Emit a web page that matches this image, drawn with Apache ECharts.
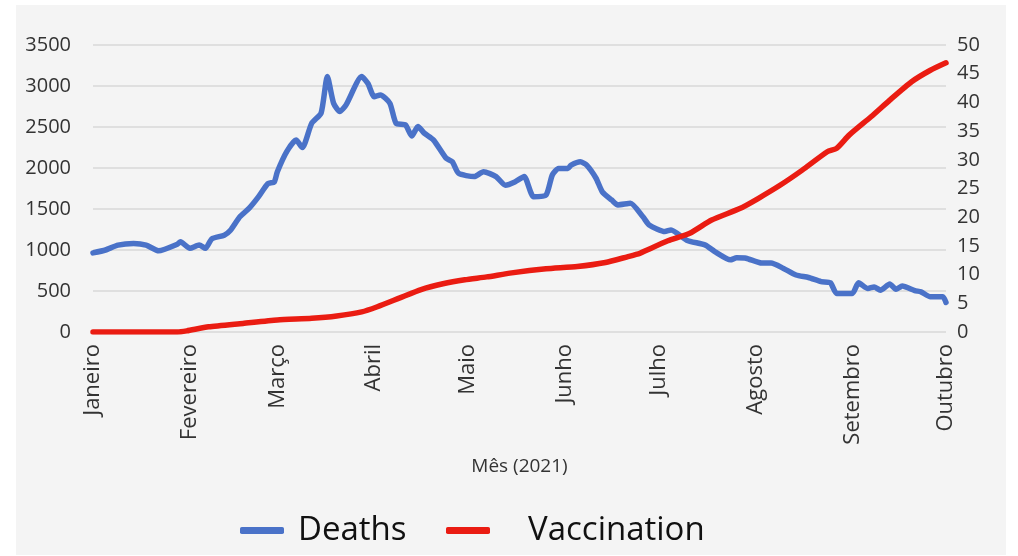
<!DOCTYPE html>
<html>
<head>
<meta charset="utf-8">
<script src="https://cdn.jsdelivr.net/npm/echarts@6/dist/echarts.min.js"></script>
<style>
  body { margin: 0; background: #fff; }
  #panel { position: absolute; left: 16px; top: 5px; width: 990px; height: 550px; background: #f4f4f4; }
  #chart { position: absolute; left: 0; top: 0; width: 1018px; height: 556px; }
</style>
</head>
<body>
<div id="panel"></div>
<div id="chart"></div>
<script>
// months of 2021 (Jan 1 .. Oct 1), one category per day
const monthNames = ['Janeiro', 'Fevereiro', 'Março', 'Abril', 'Maio', 'Junho', 'Julho', 'Agosto', 'Setembro', 'Outubro'];
const monthDays = [31, 28, 31, 30, 31, 30, 31, 31, 30, 1];

// daily deaths (7-day average) at day-of-year index
const deathDays = [0, 4, 8, 13, 17, 21, 27, 28, 31, 34, 36, 38, 42, 44, 47, 50, 53, 56, 58, 59,
  62, 65, 67, 70, 73, 75, 77, 79, 81, 86, 88, 90, 92, 95, 97, 100, 102, 104, 106, 109,
  113, 115, 117, 122, 125, 129, 132, 135, 138, 141, 145, 147, 149, 152, 153, 156, 158, 161, 163, 166,
  168, 172, 176, 178, 183, 185, 190, 196, 199, 204, 206, 209, 214, 217, 221, 225, 229, 233, 236, 238,
  243, 245, 248, 250, 252, 255, 257, 259, 263, 265, 268, 272, 273];
const deathValues = [965, 1000, 1060, 1080, 1060, 990, 1070, 1100, 1020, 1060, 1020, 1135, 1180, 1240, 1405, 1510, 1650, 1810, 1830, 1955,
  2200, 2340, 2250, 2545, 2670, 3115, 2790, 2690, 2770, 3115, 3030, 2870, 2890, 2790, 2545, 2525, 2390, 2505, 2425, 2340,
  2120, 2075, 1935, 1895, 1955, 1895, 1790, 1830, 1895, 1650, 1670, 1915, 1995, 1995, 2035, 2075, 2035, 1875, 1710, 1610,
  1550, 1570, 1405, 1305, 1225, 1245, 1120, 1060, 980, 880, 905, 900, 840, 840, 775, 695, 665, 615, 600, 470,
  470, 600, 530, 550, 510, 585, 520, 560, 505, 490, 430, 430, 360];

// vaccination (% of population), right axis
const vacDays = [0, 27, 30, 37, 48, 59, 70, 78, 86, 91, 98, 105, 112, 119, 126, 134, 145, 155, 164, 171,
  175, 177, 184, 191, 198, 207, 213, 220, 227, 235, 238, 242, 249, 255, 262, 268, 273];
const vacValues = [0, 0, 0.2, 0.9, 1.5, 2.1, 2.4, 2.8, 3.5, 4.4, 5.9, 7.4, 8.4, 9.1, 9.6, 10.3, 11, 11.4, 12.1, 13.1,
  13.7, 14.2, 15.9, 17.2, 19.5, 21.5, 23.3, 25.6, 28.2, 31.4, 32, 34.3, 37.5, 40.4, 43.6, 45.6, 46.9];

const days = [];
const monthOf = {};
monthDays.forEach((n, m) => {
  for (let d = 1; d <= n; d++) {
    const key = m + '-' + d;
    if (d === 1) monthOf[key] = monthNames[m];
    days.push(key);
  }
});

const deaths = deathDays.map((d, i) => [d, deathValues[i]]);
const vaccination = vacDays.map((d, i) => [d, vacValues[i]]);

const font = 'Open Sans';
const textColor = '#333';

const chart = echarts.init(document.getElementById('chart'));
chart.setOption({
  animation: false,
  backgroundColor: 'transparent',
  grid: { left: 93, right: 72, top: 45, bottom: 224, containLabel: false },
  xAxis: {
    type: 'category',
    data: days,
    boundaryGap: false,
    axisLine: { show: false },
    axisTick: { show: false },
    axisLabel: {
      interval: (idx, val) => monthOf[val] !== undefined,
      formatter: (val) => monthOf[val] || '',
      rotate: 90,
      margin: 12,
      fontFamily: font,
      fontSize: 22,
      color: textColor
    },
    name: 'Mês (2021)',
    nameLocation: 'middle',
    nameGap: 125,
    nameTextStyle: { fontFamily: font, fontSize: 19, color: textColor }
  },
  yAxis: [
    {
      type: 'value',
      min: 0, max: 3500, interval: 500,
      axisLine: { show: false },
      axisTick: { show: false },
      axisLabel: { margin: 22, fontFamily: font, fontSize: 20, color: textColor, formatter: (v) => String(v) },
      splitLine: { lineStyle: { color: '#d9d9d9', width: 1.5 } }
    },
    {
      type: 'value',
      min: 0, max: 50, interval: 5,
      axisLine: { show: false },
      axisTick: { show: false },
      axisLabel: { margin: 11, fontFamily: font, fontSize: 20, color: textColor },
      splitLine: { show: false }
    }
  ],
  legend: [
    {
      data: ['Deaths'],
      left: 240, top: 514, padding: 0,
      icon: 'roundRect', itemWidth: 44, itemHeight: 7,
      textStyle: { fontFamily: font, fontSize: 33, color: '#111', padding: [0, 0, 0, 9] }
    },
    {
      data: ['Vaccination'],
      left: 446, top: 514, padding: 0,
      icon: 'roundRect', itemWidth: 44, itemHeight: 7,
      textStyle: { fontFamily: font, fontSize: 33, color: '#111', padding: [0, 0, 0, 33] }
    }
  ],
  series: [
    {
      name: 'Deaths',
      type: 'line',
      yAxisIndex: 0,
      data: deaths,
      showSymbol: false,
      smooth: 0.2,
      color: '#4a72c8',
      lineStyle: { width: 5.5, cap: 'round', join: 'round' }
    },
    {
      name: 'Vaccination',
      type: 'line',
      yAxisIndex: 1,
      data: vaccination,
      showSymbol: false,
      smooth: 0.2,
      color: '#ea1c12',
      lineStyle: { width: 5.5, cap: 'round', join: 'round' }
    }
  ]
});
</script>
</body>
</html>
